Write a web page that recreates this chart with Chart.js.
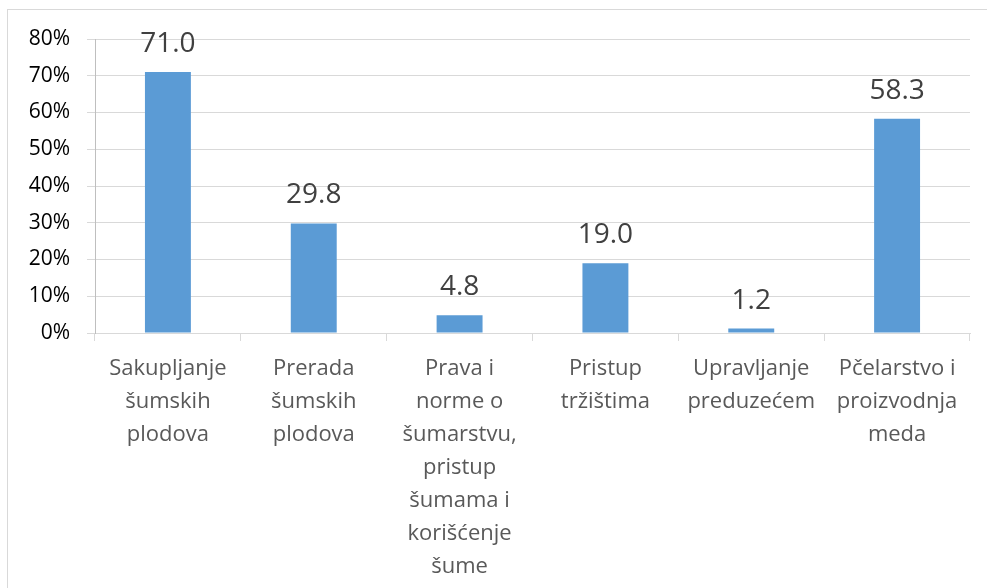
<!DOCTYPE html>
<html>
<head>
<meta charset="utf-8">
<script src="https://cdn.jsdelivr.net/npm/chart.js@4"></script>
<style>
    html, body { margin: 0; padding: 0; background: #fff; }
    #wrap { position: relative; width: 987px; height: 588px; overflow: hidden; }
    #frame { position: absolute; left: 7px; top: 9px; width: 990px; height: 600px; border: 1px solid #d9d9d9; box-sizing: border-box; }
    canvas { position: absolute; left: 0; top: 0; }
</style>
</head>
<body>
<div id="wrap">
    <div id="frame"></div>
    <canvas id="barChart" width="987" height="588"></canvas>
</div>
<script>
const categories = [
    ["Sakupljanje", "šumskih", "plodova"],
    ["Prerada", "šumskih", "plodova"],
    ["Prava i", "norme o", "šumarstvu,", "pristup", "šumama i", "korišćenje", "šume"],
    ["Pristup", "tržištima"],
    ["Upravljanje", "preduzećem"],
    ["Pčelarstvo i", "proizvodnja", "meda"]
];
const values = [71.0, 29.8, 4.8, 19.0, 1.2, 58.3];
const yTicks = [0, 10, 20, 30, 40, 50, 60, 70, 80];

const FONT = "'Open Sans', Lato, sans-serif";

// labels above the bars
const valueLabels = {
    id: "valueLabels",
    afterDatasetsDraw(chart) {
        let ctx = chart.ctx;
        let meta = chart.getDatasetMeta(0);
        ctx.save();
        ctx.font = "28px " + FONT;
        ctx.fillStyle = "#404040";
        ctx.textAlign = "center";
        ctx.textBaseline = "middle";
        meta.data.forEach((bar, i) => {
            ctx.fillText(values[i].toFixed(1), bar.x, bar.y - 28);
        });
        ctx.restore();
    }
};

let ctx = document.getElementById("barChart").getContext("2d");
let chart = new Chart(ctx, {
    type: "bar",
    data: {
        labels: categories,
        datasets: [{
            data: values,
            backgroundColor: "#5b9bd5",
            categoryPercentage: 1,
            barPercentage: 0.315
        }]
    },
    options: {
        responsive: false,
        animation: false,
        layout: { padding: { top: 39, right: 17, left: 0, bottom: 0 } },
        plugins: {
            legend: { display: false },
            tooltip: { enabled: false }
        },
        scales: {
            x: {
                grid: {
                    display: true,
                    drawOnChartArea: false,
                    offset: true,
                    tickLength: 8,
                    color: "#d9d9d9"
                },
                border: { color: "#d9d9d9" },
                ticks: {
                    color: "#595959",
                    font: { family: FONT, size: 22, lineHeight: 33 / 22 },
                    padding: 11,
                    maxRotation: 0,
                    autoSkip: false
                },
                afterFit(scale) { scale.height = 255; }
            },
            y: {
                min: 0,
                max: 80,
                afterBuildTicks(scale) { scale.ticks = yTicks.map(v => ({ value: v })); },
                grid: {
                    color: "#d9d9d9",
                    tickLength: 8
                },
                border: { color: "#bfbfbf" },
                ticks: {
                    color: "#000",
                    font: { family: FONT, size: 21 },
                    padding: 17,
                    callback: v => v + "%"
                },
                afterFit(scale) { scale.width = 95; }
            }
        }
    },
    plugins: [valueLabels]
});
</script>
</body>
</html>
